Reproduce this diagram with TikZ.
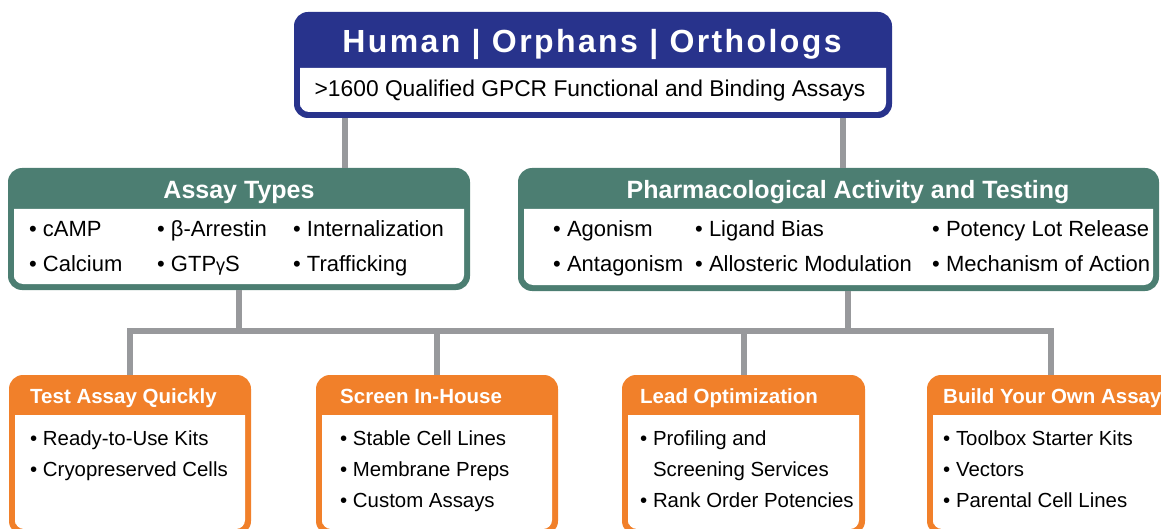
\documentclass[tikz,border=0pt]{standalone}
\usepackage{fontspec}
\setmainfont{Liberation Sans}
\newfontfamily\titlefont{Liberation Sans}[LetterSpace=7.5]
\usetikzlibrary{calc}
\definecolor{navy}{RGB}{40,51,140}
\definecolor{teal}{RGB}{76,126,114}
\definecolor{orng}{RGB}{241,128,42}
\definecolor{linkgray}{RGB}{152,153,156}
\tikzset{
  panel/.style={inner sep=0pt, outer sep=0pt, rounded corners=14pt},
  link/.style={draw=linkgray, line width=6pt},
  hdr/.style={text=white, font=\bfseries\fontsize{25}{30}\selectfont, anchor=base},
  ohdr/.style={text=white, font=\bfseries\fontsize{20.5}{24}\selectfont, anchor=base west, inner sep=0pt},
  gitem/.style={font=\fontsize{22}{35}\selectfont, align=left, anchor=base west, inner sep=0pt},
  oitem/.style={font=\fontsize{20.4}{31}\selectfont, align=left, anchor=base west, inner sep=0pt}
}
% name, x1, y1, x2, y2, header bottom, colour
\newcommand\panel[7]{%
  \node[panel, fill=#7, minimum width=#4-#2, minimum height=#5-#3, anchor=north west] (#1) at (#2,#3) {};
  \fill[white] (#2+6,#6) -- (#4-6,#6) -- (#4-6,#5-20) [rounded corners=9pt] -- (#4-6,#5-6) -- (#2+6,#5-6) -- (#2+6,#5-20) [sharp corners] -- cycle;
}
\begin{document}
\begin{tikzpicture}[x=1pt, y=-1pt]
  %%%%% START %%%%%
  \useasboundingbox (0,0) rectangle (1161,529);
  \clip (0,0) rectangle (1161,529);

  \coordinate (t1) at (345,0);
  \coordinate (t2) at (843,0);
  \coordinate (u2) at (848,0);
  \coordinate (bus) at (0,331);

  % boxes
  \panel{top}{294}{12}{892}{118}{68}{navy}
  \panel{assay}{8}{168}{470}{290}{209}{teal}
  \panel{pharm}{518}{168}{1159}{291}{209}{teal}
  \panel{quick}{9}{375}{251}{535}{415}{orng}
  \panel{house}{316}{375}{558}{535}{415}{orng}
  \panel{lead}{622}{375}{865}{535}{415}{orng}
  \panel{own}{927}{375}{1175}{535}{415}{orng}

  % connectors
  \draw[link] (top.south -| t1) -- (assay.north -| t1);
  \draw[link] (top.south -| t2) -- (pharm.north -| t2);
  \draw[link] (assay.south) -- (assay.south |- bus);
  \draw[link] (pharm.south -| u2) -- (bus -| u2);
  \draw[link] (quick.north) -- (quick.north |- bus) -- (own.north |- bus) -- (own.north);
  \draw[link] (house.north |- bus) -- (house.north);
  \draw[link] (lead.north |- bus) -- (lead.north);

  % top box
  \node[text=white, anchor=base, font=\titlefont\bfseries\fontsize{32}{36}\selectfont] (title) at (592,53) {Human | Orphans | Orthologs};
  \node[anchor=base, font=\fontsize{22.8}{26}\selectfont] (count) at (590,97) {>1600 Qualified GPCR Functional and Binding Assays};

  % green boxes (base = last line)
  \node[hdr] (assayhd) at (239,199) {Assay Types};
  \node[gitem] (a1) at (29,271) {\textbullet\ cAMP\\\textbullet\ Calcium};
  \node[gitem] (a2) at (157,271) {\textbullet\ β-Arrestin\\\textbullet\ GTP{\fontsize{18}{18}\selectfont γ}S};
  \node[gitem] (a3) at (293,271) {\textbullet\ Internalization\\\textbullet\ Trafficking};

  \node[hdr] (pharmhd) at (848,199) {Pharmacological Activity and Testing};
  \node[gitem] (p1) at (553,271) {\textbullet\ Agonism\\\textbullet\ Antagonism};
  \node[gitem] (p2) at (695,271) {\textbullet\ Ligand Bias\\\textbullet\ Allosteric Modulation};
  \node[gitem] (p3) at (932,271) {\textbullet\ Potency Lot Release\\\textbullet\ Mechanism of Action};

  % orange boxes
  \node[ohdr] (quickhd) at (30,403) {Test Assay Quickly};
  \node[oitem] (q1) at (30,476) {\textbullet\ Ready-to-Use Kits\\\textbullet\ Cryopreserved Cells};
  \node[ohdr] (househd) at (340,403) {Screen In-House};
  \node[oitem] (h1) at (340,507) {\textbullet\ Stable Cell Lines\\\textbullet\ Membrane Preps\\\textbullet\ Custom Assays};
  \node[ohdr] (leadhd) at (640,403) {Lead Optimization};
  \node[oitem] (l1) at (640,507) {\textbullet\ Profiling and\\\phantom{\textbullet\ }Screening Services\\\textbullet\ Rank Order Potencies};
  \node[ohdr] (ownhd) at (943,403) {Build Your Own Assay};
  \node[oitem] (o1) at (943,507) {\textbullet\ Toolbox Starter Kits\\\textbullet\ Vectors\\\textbullet\ Parental Cell Lines};
  %%%%% END %%%%%
\end{tikzpicture}
\end{document}
